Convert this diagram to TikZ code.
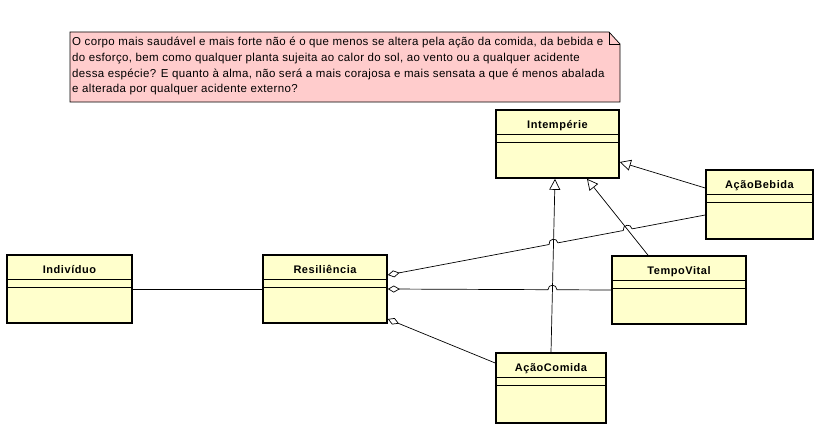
\documentclass[tikz,border=0pt]{standalone}
\usepackage{fontspec}
\setmainfont{Liberation Sans}
\usetikzlibrary{arrows.meta,calc}
\definecolor{classfill}{HTML}{FFFFCC}
\definecolor{notefill}{HTML}{FFCCCC}

\begin{document}
\begin{tikzpicture}
        [x=1pt,y=-1pt,
         class/.style={draw,line width=1.6pt,fill=classfill,font=\fontsize{11}{13}\selectfont\bfseries\addfontfeature{LetterSpace=5},
           inner xsep=0pt,inner ysep=10pt,text height=8pt,text depth=40pt,minimum height=68pt,
           path picture={\draw[line width=0.8pt] ([yshift=-24pt]path picture bounding box.north west) -- ([yshift=-24pt]path picture bounding box.north east);
                         \draw[line width=0.8pt] ([yshift=-32pt]path picture bounding box.north west) -- ([yshift=-32pt]path picture bounding box.north east);}},
         link/.style={line width=0.7pt},
         aggr/.style={link,{Diamond[open,length=12pt,width=7pt]}-},
         gen/.style={link,-{Triangle[open,length=11pt,width=11pt]}},
         hop/.style={bend left=90,looseness=1.7}]

        \useasboundingbox (0,0) rectangle (816,428);

        % note
        \filldraw[fill=notefill,draw=black,line width=0.7pt] (70,32) -- (609,32) -- (620,44) -- (620,102) -- (70,102) -- cycle;
        \draw[line width=0.7pt] (609,32) |- (620,44);
        \node[anchor=north west,inner xsep=2pt,inner ysep=5pt,align=left,font=\fontsize{11.5}{15.7}\selectfont\addfontfeature{LetterSpace=3}] (note) at (70,32)
          {O corpo mais saudável e mais forte não é o que menos se altera pela ação da comida, da bebida e\\
           do esforço, bem como qualquer planta sujeita ao calor do sol, ao vento ou a qualquer acidente\\
           dessa espécie? E quanto à alma, não será a mais corajosa e mais sensata a que é menos abalada\\
           e alterada por qualquer acidente externo?};

        % classes
        \node[class,minimum width=123pt] (int) at (557.5,144) {Intempérie};
        \node[class,minimum width=107pt,minimum height=69pt,text depth=41pt] (beb) at (759.5,204.5) {AçãoBebida};
        \node[class,minimum width=134pt] (tv) at (679,290) {TempoVital};
        \node[class,minimum width=125pt] (ind) at (69.5,289) {Indivíduo};
        \node[class,minimum width=124pt] (res) at (325,289) {Resiliência};
        \node[class,minimum width=110pt,minimum height=70pt,text depth=42pt] (com) at (551,388) {AçãoComida};

        % end points
        \coordinate (r1) at ([yshift=14pt]res.east);
        \coordinate (r2) at (res.east);
        \coordinate (r3) at ([yshift=-30pt]res.east);
        \coordinate (b1) at ([yshift=-10.5pt]beb.west);
        \coordinate (b2) at ([yshift=16.5pt]beb.west);
        \coordinate (t1) at ([xshift=-31pt]tv.north);
        \coordinate (c1) at (com.north);
        \coordinate (c2) at ([yshift=25pt]com.west);
        \coordinate (i1) at ([xshift=-2.5pt]int.south);
        \coordinate (i2) at ([xshift=29.5pt]int.south);
        \coordinate (i3) at ([yshift=-18pt]int.east);

        % crossings
        \coordinate (h1) at (intersection of r1--b1 and c1--i1);
        \coordinate (h2) at (intersection of r1--b1 and t1--i2);
        \coordinate (h3) at (intersection of r2--tv.west and c1--i1);

        \draw[link] (ind) -- (res);
        \draw[aggr] (r1) -- ($(h1)!4.5pt!(r1)$) to[hop] ($(h1)!4.5pt!(b1)$) -- ($(h2)!4.5pt!(r1)$) to[hop] ($(h2)!4.5pt!(b1)$) -- (b1);
        \draw[aggr] (r2) -- ($(h3)!4.5pt!(r2)$) to[hop] ($(h3)!4.5pt!(tv.west)$) -- (tv.west);
        \draw[aggr] (r3) -- (c2);
        \draw[gen] (c1) -- (i1);
        \draw[gen] (t1) -- (i2);
        \draw[gen] (b2) -- (i3);
      \end{tikzpicture}
\end{document}
